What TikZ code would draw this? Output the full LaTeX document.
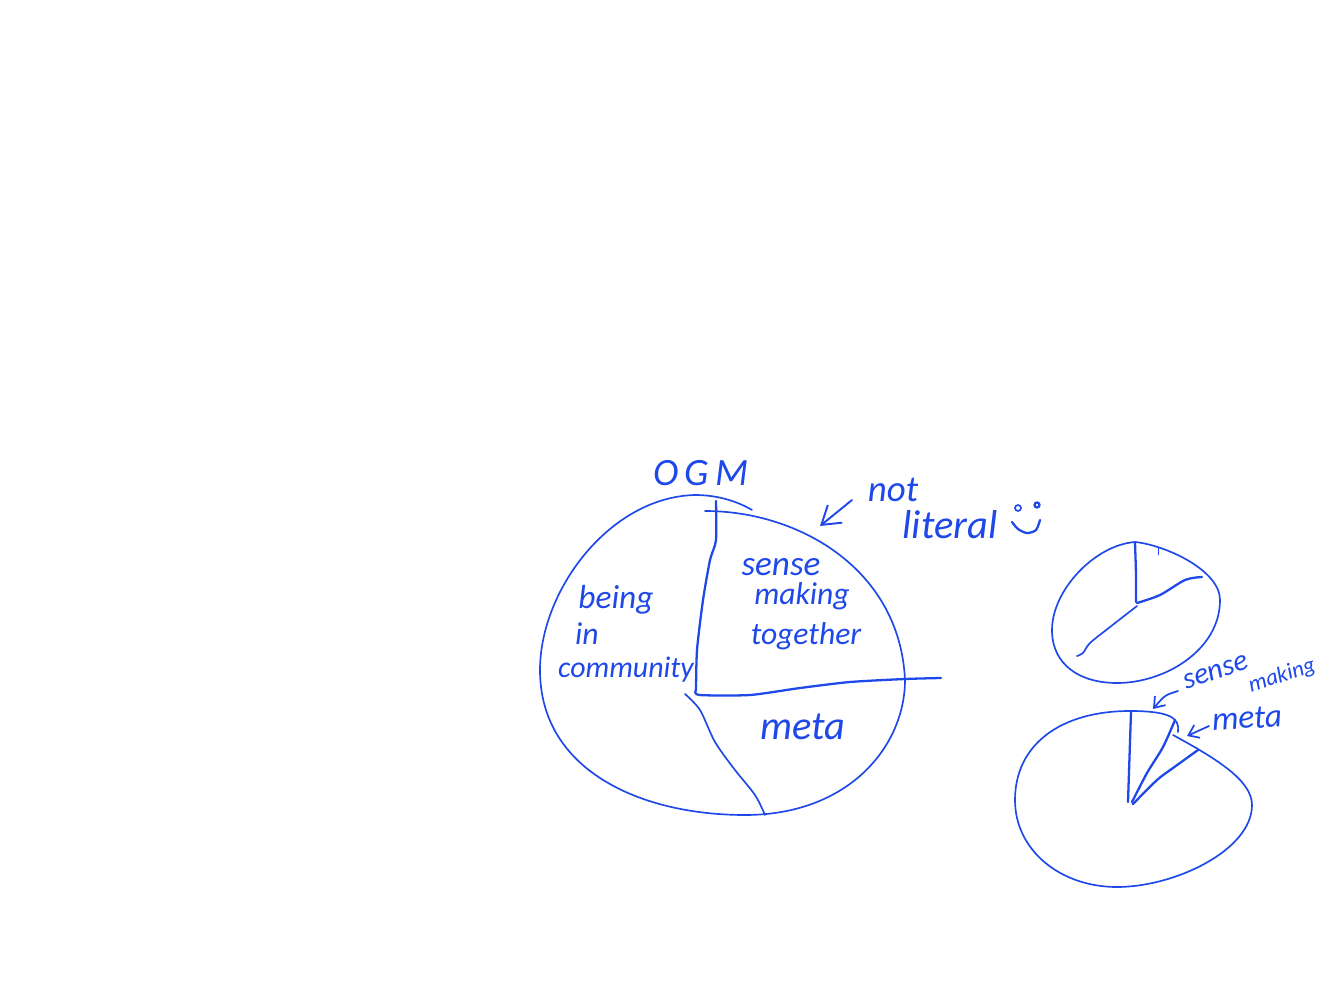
\documentclass[tikz,border=0pt]{standalone}
\usepackage{fontspec}
\setmainfont{Carlito}
\usepackage{tikz}
\usetikzlibrary{arrows.meta}
\definecolor{inkblue}{RGB}{30,72,232}
\tikzset{
  ink/.style={draw=inkblue,line width=0.95pt,line cap=round,line join=round},
  inkthick/.style={ink,line width=1.3pt},
  inkthin/.style={ink,line width=0.5pt},
  inkarrow/.style={ink,line width=1.1pt,-{Straight Barb[length=10pt,width=13pt]}},
  inkarrowsmall/.style={ink,line width=1pt,-{Straight Barb[length=5.5pt,width=8pt]}},
  hand/.style={text=inkblue,inner sep=0pt,font=\itshape}
}
\newcommand{\handsize}[1]{\fontsize{#1}{#1}\selectfont}
\begin{document}
\begin{tikzpicture}[x=0.02cm,y=-0.02cm]
  \useasboundingbox (0,0) rectangle (1332,1000);
  % big circle
  \draw[ink] (752,510) .. controls (735,500) and (715,495) .. (695,495)
    .. controls (610,497) and (540,590) .. (540,670)
    .. controls (540,770) and (640,815) .. (745,815)
    .. controls (850,815) and (905,745) .. (905,680)
    .. controls (900,570) and (800,511) .. (705,511);
  \draw[inkthick] plot[smooth,tension=0.4] coordinates {(716,501) (716,540) (710,560) (703,600) (697,650) (696,690)};
  \draw[inkthick] plot[smooth,tension=0.4] coordinates {(696,690) (699,695) (750,695) (800,688) (850,682) (905,679) (941,678)};
  \draw[ink] plot[smooth,tension=0.5] coordinates {(685,694) (700,710) (715,742) (735,770) (755,795) (765,815)};
  % labels of the big circle
  \node[hand,font=\itshape\handsize{22}] (ogm) at (701,473) {O\,G\,M};
  \node[hand,font=\itshape\handsize{19}] (being) at (616,600) {being};
  \node[hand,font=\itshape\handsize{18}] (in) at (587,634) {in};
  \node[hand,font=\itshape\handsize{17}] (community) at (626,670) {community};
  \node[hand,font=\itshape\handsize{20}] (sense) at (781,567) {sense};
  \node[hand,font=\itshape\handsize{18}] (making) at (802,596) {making};
  \node[hand,font=\itshape\handsize{18}] (together) at (806,636) {together};
  \node[hand,font=\itshape\handsize{23}] (meta) at (803,727) {meta};
  \node[hand,font=\itshape\handsize{21}] (notword) at (893,490) {not};
  \node[hand,font=\itshape\handsize{23}] (literal) at (950,525) {literal};
  % arrow and smiley
  \coordinate (nottip) at (820,526);
  \coordinate (nottail) at (852,500);
  \draw[inkarrow] (nottail) -- (nottip);
  \draw[ink] (1018,508) circle (3);
  \draw[inkthick] (1037,505) circle (2.5);
  \draw[inkthick] plot[smooth] coordinates {(1012,522) (1018,529) (1027,533) (1036,530) (1040,520)};
  % small circle, top right
  \draw[ink] (1135,542) .. controls (1165,545) and (1220,570) .. (1220,600)
    .. controls (1220,650) and (1165,683) .. (1117,683)
    .. controls (1080,683) and (1052,665) .. (1052,630)
    .. controls (1052,590) and (1095,545) .. (1135,542);
  \draw[inkthick] plot[smooth] coordinates {(1135,543) (1136,575) (1136,602)};
  \draw[inkthick] plot[smooth] coordinates {(1137,603) (1160,595) (1185,580) (1202,577)};
  \draw[ink] plot[smooth] coordinates {(1137,606) (1110,627) (1090,643) (1083,653) (1077,656)};
  \draw[inkthin] (1158,548) -- (1158,555);
  % small circle, bottom right
  \draw[ink] (1178,732) .. controls (1180,718) and (1170,711) .. (1130,711)
    .. controls (1060,711) and (1015,745) .. (1015,800)
    .. controls (1015,850) and (1060,887) .. (1117,887)
    .. controls (1175,887) and (1252,850) .. (1252,805)
    .. controls (1252,780) and (1215,758) .. (1173,735);
  \draw[inkthick] (1131,712) -- (1128,802);
  \draw[inkthick] plot[smooth] coordinates {(1175,720) (1163,747) (1147,773) (1132,802)};
  \draw[inkthick] plot[smooth] coordinates {(1198,750) (1173,768) (1157,780) (1133,804)};
  % labels of the wedges
  \node[hand,font=\itshape\handsize{17},rotate=18] (sensesmall) at (1216,672) {sense};
  \node[hand,font=\itshape\handsize{13},rotate=18] (makingsmall) at (1282,676) {making};
  \node[hand,font=\itshape\handsize{19},rotate=3] (metasmall) at (1247,718) {meta};
  \coordinate (sensetail) at (1178,691);
  \coordinate (sensetip) at (1153,709);
  \coordinate (metatail) at (1209,726);
  \coordinate (metatip) at (1187,736);
  \draw[inkarrowsmall] (sensetail) .. controls (1165,695) .. (sensetip);
  \draw[inkarrowsmall] (metatail) -- (metatip);
\end{tikzpicture}
\end{document}
